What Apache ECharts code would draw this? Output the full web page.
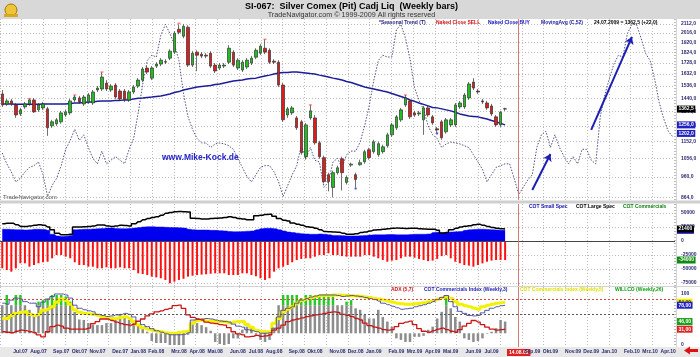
<!DOCTYPE html>
<html><head><meta charset="utf-8">
<style>html,body{margin:0;padding:0;background:#fff}#c{width:700px;height:357px}</style>
<script src="https://cdn.jsdelivr.net/npm/echarts/dist/echarts.min.js"></script>
</head><body><div id="c"></div>
<script>
const startDate = [2007, 5, 8];
const weekCount = 149;
const monthNames = ['Jan','Feb','Mrz','Apr','Mai','Jun','Jul','Aug','Sep','Okt','Nov','Dez'];
const priceTicks = [864,960,1056,1152,1248,1344,1440,1536,1632,1728,1824,1920,2016,2112];
const cotTicks = [50000,25000,0,-25000,-50000,-75000];
const indTicks = [100,0];
const markerIndex = 114;
// weekly candles [open, close, low, high]
const candles = [
[1473,1392,1378,1503],[1399,1421,1385,1436],[1421,1399,1385,1436],[1392,1322,1302,1406],[1329,1357,1315,1371],
[1378,1399,1364,1414],[1399,1428,1385,1443],[1428,1343,1336,1443],[1357,1392,1343,1406],[1371,1399,1357,1414],
[1364,1237,1187,1378],[1250,1276,1237,1289],[1263,1289,1250,1302],[1276,1336,1263,1350],[1322,1343,1309,1357],
[1336,1421,1322,1436],[1428,1450,1414,1465],[1443,1414,1399,1458],[1399,1450,1385,1465],[1414,1465,1399,1480],
[1406,1488,1392,1503],[1503,1518,1488,1534],[1511,1607,1495,1649],[1558,1511,1495,1582],[1503,1534,1488,1550],
[1542,1450,1436,1558],[1495,1436,1421,1511],[1495,1432,1414,1511],[1428,1488,1414,1503],[1488,1526,1473,1542],
[1534,1582,1518,1598],[1582,1675,1566,1692],[1683,1649,1632,1700],[1598,1683,1582,1700],[1700,1718,1683,1735],
[1718,1753,1700,1771],[1735,1740,1718,1762],[1771,1836,1753,1855],[1827,2014,1808,2035],[2056,2024,2003,2109],
[1983,2088,1962,2109],[2077,1709,1692,2098],[1709,1817,1692,1836],[1827,1799,1656,1845],[1808,1790,1771,1827],
[1799,1790,1771,1817],[1817,1700,1683,1836],[1709,1658,1641,1727],[1683,1709,1666,1727],[1700,1709,1683,1727],
[1735,1864,1718,1894],[1827,1709,1692,1845],[1683,1753,1666,1771],[1666,1735,1649,1753],[1692,1753,1675,1771],
[1727,1771,1709,1790],[1780,1845,1762,1864],[1817,1884,1799,1904],[1864,1827,1808,1952],[1845,1735,1718,1864],
[1744,1735,1718,1762],[1735,1542,1526,1753],[1542,1289,1276,1558],[1322,1364,1302,1378],[1336,1371,1322,1385],
[1302,1237,1224,1315],[1276,1088,1077,1289],[1066,1256,1050,1269],[1302,1350,1289,1392],[1302,1145,1134,1322],
[1145,1066,1055,1157],[1061,938,929,1072],[972,938,892,982],[910,982,864,992],[982,1007,972,1018],
[1055,982,896,1066],[934,958,924,968],[1021,1026,1012,1034],[972,948,910,982],[1023,1034,1018,1050],
[1039,1094,1028,1105],[1105,1061,1050,1116],[1094,1151,1083,1163],[1077,1140,1066,1151],[1094,1122,1083,1134],
[1128,1193,1116,1206],[1193,1256,1181,1269],[1237,1309,1224,1322],[1289,1357,1276,1371],[1392,1443,1378,1465],
[1421,1309,1295,1436],[1336,1322,1309,1350],[1329,1336,1315,1350],[1289,1371,1193,1385],[1371,1322,1309,1385],
[1309,1269,1256,1322],[1231,1224,1206,1243],[1276,1175,1163,1289],[1212,1289,1200,1302],[1256,1289,1243,1302],
[1256,1392,1243,1406],[1378,1406,1364,1421],[1378,1465,1364,1480],[1443,1550,1428,1566],[1566,1518,1503,1598],
[1495,1488,1473,1511],[1421,1414,1399,1436],[1406,1371,1357,1421],[1385,1329,1315,1399],[1309,1256,1243,1322],
[1256,1340.5,1243,1350],[1365,1362.5,1350,1372]
];
const ma52 = [
1399,1399,1399,1396,1396,1396,1396,1396,1396,1399,
1399,1399,1399,1399,1399,1403,1406,1406,1410,1414,
1414,1418,1421,1421,1421,1425,1425,1428,1428,1436,
1440,1443,1447,1450,1454,1458,1465,1473,1484,1491,
1503,1511,1518,1526,1530,1534,1538,1546,1550,1558,
1566,1574,1578,1582,1590,1594,1598,1607,1615,1623,
1632,1641,1645,1645,1649,1649,1645,1641,1636,1632,
1623,1615,1607,1598,1590,1582,1570,1562,1550,1538,
1526,1518,1511,1503,1495,1488,1476,1465,1454,1443,
1428,1418,1406,1396,1385,1374,1371,1364,1357,1350,
1340,1329,1322,1315,1312,1309,1302,1295,1285,1276,
1266,1256];
// seasonal trend index (0..100, own scale)
const seasonal = [
26,20,15.5,10,12,15.5,18,19,21,14,
2,8,12,19,28,33,39,33,36,29,
23,20,27,20,22,24,22,20,28,34,
48,64,77,80,79,91,97,92,86,77,
59,46,39,34,31.5,31.5,29,31,31.5,31,
30,28,23,18,13,10,14,18,19,19,
15.5,10,2,8,14,19,30,23,29,22,
21,7,10,21,23,18,25,27,27,32,
41,52,66,77,80,79,79,94,97,89.5,
78,62,55,50,41,36,34,29,31,32,
31.5,31,30,29,25,21,17,10,14,18,
19,20,20,12,3,7,11,14,29,36,
38,29,36,29,24,20,24,20,28,28,
22,20,46,58,67,75,80,79,92,97,
97,89.5,81,77,67,54,45,38,35];
const nakedSell = [[6,1436],[16,1465],[22,1649],[39,2120],[58,1952],[68,1392],[89,1465]];
const nakedBuy = [[78,905],[96,1202]];
const arrows = [[117,898,121,1081],[130,1224,139,1976]];
const largeSpec = [
31000,31500,31500,29000,26000,26000,27000,28000,29000,28000,
25000,20000,14000,11000,11000,12000,25000,25000,25500,26000,
27000,28500,28500,27000,26000,27000,28000,27500,27000,31000,
34500,38000,40000,42000,43500,46000,49500,51000,52300,52500,
52300,52000,40500,40000,39500,39500,40000,40500,41000,42000,
43400,42000,40000,39300,38000,38000,45000,46000,47500,47700,
44000,40000,37000,35700,32000,30000,28000,25500,24500,22700,
20000,17000,16600,16000,15500,14000,12000,12000,13000,15000,
16000,18000,19600,20000,21000,22000,22700,23000,22700,22500,
22700,22700,22000,21500,21000,21000,19000,14000,15000,20000,
22700,25000,26500,27300,29000,29800,28000,26000,24000,22700,
22000,21400];
const smallSpec = [
21000,21000,20500,20000,20000,19600,20000,21000,21000,20500,
19000,12000,9000,8000,8500,10000,20000,20500,21000,21000,
21500,22000,22500,23000,23000,22500,22000,22000,22500,23000,
24000,25000,25500,25500,25000,25000,24500,24000,24000,23500,
23000,21000,20000,19500,19600,19500,19000,19000,18500,18000,
17000,16600,16600,17000,17500,18000,20000,22000,22700,22700,
22000,20000,18000,16000,15000,14000,13000,12500,12000,12000,
12500,12000,11000,10000,10000,9500,9000,9000,9000,9500,
10000,10500,11000,11000,11000,11500,11500,11000,11000,11000,
11500,12000,12000,12000,12500,15000,15500,15000,15000,16000,
16500,17000,19000,20000,20500,21000,21000,20500,20000,19600,
19000,19000];
const commercials = [
-48800,-51800,-54800,-48800,-39800,-39800,-45900,-42900,-39800,-38000,
-37000,-30900,-25000,-25000,-28000,-30900,-38000,-42900,-42900,-45900,
-45900,-48800,-48800,-47000,-48800,-48800,-47000,-48800,-48800,-52000,
-57700,-59000,-60700,-63700,-65000,-66600,-69600,-75500,-72600,-69600,
-67500,-63700,-62000,-60700,-60000,-59500,-58500,-57700,-57700,-57700,
-60700,-60700,-60700,-57700,-57700,-60700,-63000,-66600,-69600,-66600,
-54800,-48800,-45900,-42900,-38000,-34000,-32000,-30900,-30900,-28000,
-25000,-25000,-22000,-25000,-25000,-27000,-28000,-28000,-28000,-28000,
-25000,-25000,-28000,-30900,-34000,-37000,-35000,-34000,-30900,-28000,
-28000,-29800,-32100,-34000,-36000,-35000,-32000,-27000,-25000,-30900,
-37000,-39800,-42900,-44000,-45900,-43000,-40000,-37000,-35000,-34000,
-34000,-34000];
const adx = [
26,25,24,27,29,28,26,24,20,16,
26,36,39,37,33,31,31,31,31,33,
42,46,51,51,48,45,42,40,39,41,
47,51,57,61,65,67,70,72,77,78,
72,59,54,51,49,45,43,42,40,39,
34,26,22,20,16,17,19,17,18,20,
29,33,39,46,49,51,53,55.5,57,59,
60,62,64,65,64,60,58,55.5,52,49,
43,38,35,33,30,29,30,36,42.5,45,
47,40,32,27,25,28,31,33,30,27,
25,30,37,42.5,48,45,40,35,31,29,
30,31];
const cotIdx3 = [
82,80,88,92,90,85,82,82,75,84,
90,95,100,100,98,92,78,72,69,67,
65,60,58,56,57,59,60,62,60,55,
46,40,36,32,28,25,22,20,20,20,
21,24,49,50,51,52,51,49,47,46,
45,41,37,35,30,28,26,23,23,24,
33,55,68,72,75,82,88,91,94,96,
98,98,98,98,97,95,96,97,96,95,
93,91,89,86,82,79,76,73,70,71,
72,75,77,79,82,85,89,93,97,85,
75,66,62,58,57,58,63,68,72,75,
77,78];
const cotIdx5 = [
52,52,58,62,64,65,60,58,60,68,
70,75,84,90,87,80,69,64,62,61,
60,58,55,53,52,52,54,55.5,52,46,
39,34,31,29,27,26,24,23,23,25,
26,27,42.5,48,49,47,47,46,46,46,
43,45,46,46,40,35,29,26,26,26,
42.5,52,65,70,75,82,87,90,93,95,
97,97,97,98,98,97.5,97,96.5,96,95,
94,93,91,90,88,86,84,82,81,80,
80,81,82,83,85,87,90,93,95,91,
85,80,77,75,72,70,75,78,80,82,
83,84];
const willco = [
78,98,78,98,98,78,69,59,85,88,
91,98,98,98,95,85,65,50,49,43,
40,39,39,43,43,53,59,53,49,43,
38,35,26,8,4,4,4,0,0,0,
0,20,46,43,39,35,28,6,2,0,
2,13,13,30,36,36,20,10,6,10,
33,78,98,98,98,98,92,98,98,97,
97,97,97,95,78,78,85,88,72,69,
59,52,52,69,55,46,36,13,10,6,
6,16,16,18,30,36,52,65,98,72,
55,46,13,10,6,8,13,22,26,33,
49,46];
const willcoBase = 23, willcoHigh = 78;
const obLevel = 90, midLevel = 61;

// ---- derived structures ----
const cats = [];
const t0 = Date.UTC(startDate[0], startDate[1], startDate[2]);
for (let i = 0; i < weekCount; i++) cats.push(new Date(t0 + i * 7 * 86400000).toISOString().slice(0, 10));
const comma = (v, d) => v.toFixed(d).replace('.', ',');
const ddmm = (s, full) => s.slice(8, 10) + '.' + s.slice(5, 7) + '.' + (full ? s.slice(0, 4) : s.slice(2, 4));
const last = candles.length - 1;
const lastClose = candles[last][1], chg = lastClose - candles[last - 1][1];
const wBaseSer = willco.map(v => Math.min(v, willcoBase));
const wGraySer = willco.map(v => v >= willcoBase ? Math.min(v, willcoHigh) - willcoBase : willcoBase - v);
const wGreenSer = willco.map(v => v > willcoHigh ? v - willcoHigh : 0);

const FONT = '"Liberation Sans", Arial, sans-serif';
const boxItem = (val, bg, fg, dec) => ({
  yAxis: val,
  lineStyle: { color: 'rgba(0,0,0,0)', width: 0.01 },
  label: { show: true, position: 'end', distance: 2, formatter: () => comma(val, dec),
    backgroundColor: bg, color: fg, fontSize: 5, fontWeight: 'bold', padding: [1, 1.5], fontFamily: FONT }
});
const redV = { xAxis: cats[markerIndex], lineStyle: { color: '#d87878', width: 1, type: 'solid' }, label: { show: false } };
const dotted = { color: '#bcbcbc', type: [1, 2], width: 1 };
const axLabel = (ticks, fmt) => ({ customValues: ticks, formatter: fmt, fontSize: 5, fontWeight: 'bold', color: '#2b2b70', margin: 6, fontFamily: FONT });

const catAxis = (g, labels) => ({
  type: 'category', gridIndex: g, data: cats, boundaryGap: true,
  axisLine: { show: false }, axisTick: { show: false }, splitLine: { show: false },
  axisLabel: labels ? {
    show: true, fontSize: 5, fontWeight: 'bold', color: '#2a2a6e', margin: 2, fontFamily: FONT,
    interval: (i, v) => i === markerIndex || (i !== markerIndex - 1 && +v.slice(8, 10) <= 7),
    formatter: (v, i) => i === markerIndex ? '{r|' + ddmm(v, false) + '}' : monthNames[+v.slice(5, 7) - 1] + '.' + v.slice(2, 4),
    rich: { r: { backgroundColor: '#e02020', color: '#fff', fontSize: 5, fontWeight: 'bold', padding: [1, 2] } }
  } : { show: false }
});
const gridAxis = g => ({
  type: 'value', gridIndex: g, min: 0, max: weekCount, interval: 4.8,
  axisLine: { show: false }, axisTick: { show: false }, axisLabel: { show: false },
  splitLine: { show: true, lineStyle: dotted }
});

const txt = (x, y, text, fill, font, align) => ({
  type: 'text', x, y, z: 100, silent: true,
  style: { text, fill, font, align: align || 'left', verticalAlign: 'middle' }
});
const small = 'bold 5px ' + FONT;

const option = {
  animation: false,
  textStyle: { fontFamily: FONT },
  grid: [
    { left: 0, right: 25, top: 19, height: 181 },
    { left: 0, right: 25, top: 204, height: 82 },
    { left: 0, right: 25, top: 287, height: 60 }
  ],
  xAxis: [catAxis(0, false), catAxis(1, false), catAxis(2, true), gridAxis(0), gridAxis(1), gridAxis(2)],
  yAxis: [
    { type: 'log', gridIndex: 0, position: 'right', min: 853, max: 2167, logBase: 10,
      axisLine: { show: false }, axisTick: { show: false, customValues: priceTicks },
      axisLabel: axLabel(priceTicks, v => comma(Math.round(v * 10) / 10, 1)),
      splitLine: { show: true, lineStyle: dotted } },
    { type: 'value', gridIndex: 0, min: 0, max: 100, show: false },
    { type: 'value', gridIndex: 1, position: 'right', min: -80400, max: 66100,
      axisLine: { show: false }, axisTick: { show: false, customValues: cotTicks },
      axisLabel: axLabel(cotTicks, v => String(Math.round(v))),
      splitLine: { show: true, lineStyle: dotted } },
    { type: 'value', gridIndex: 2, position: 'right', min: -3.9, max: 113.7,
      axisLine: { show: false }, axisTick: { show: false, customValues: indTicks },
      axisLabel: axLabel(indTicks, v => String(Math.round(v))),
      splitLine: { show: false } }
  ],
  series: [
    { name: 'Seasonal Trend', type: 'line', xAxisIndex: 0, yAxisIndex: 1, data: seasonal, showSymbol: false,
      lineStyle: { color: '#4e5086', width: 1, type: [1.5, 1.5] }, z: 1 },
    { name: 'MovingAvg (C,52)', type: 'line', xAxisIndex: 0, yAxisIndex: 0, data: ma52, showSymbol: false,
      lineStyle: { color: '#1c1c9c', width: 1.5 }, z: 3,
      markLine: { silent: true, symbol: ['none', 'arrow'], symbolSize: 7,
        lineStyle: { color: '#1e1eb4', width: 2, type: 'solid' }, label: { show: false },
        data: arrows.map(a => [{ coord: [a[0], a[1]] }, { coord: [a[2], a[3]] }]) } },
    { name: 'Silver', type: 'candlestick', xAxisIndex: 0, yAxisIndex: 0, data: candles, barWidth: 3, z: 4,
      itemStyle: { color: '#1fbf1f', color0: '#e01b1b', borderColor: '#333', borderColor0: '#333', borderWidth: 0.7 },
      markLine: { silent: true, symbol: 'none', z: 10, data: [
        redV,
        boxItem(lastClose, '#000', '#fff', 1),
        boxItem(ma52[ma52.length - 1], '#2020c0', '#fff', 1),
        boxItem(nakedBuy[nakedBuy.length - 1][1], '#2020c0', '#fff', 1)
      ] } },
    { name: 'Naked Close SELL', type: 'scatter', xAxisIndex: 0, yAxisIndex: 0, data: nakedSell,
      symbol: 'rect', symbolSize: [3, 1.3], itemStyle: { color: '#ff5050' }, z: 5 },
    { name: 'Naked Close BUY', type: 'scatter', xAxisIndex: 0, yAxisIndex: 0, data: nakedBuy,
      symbol: 'rect', symbolSize: [2, 2], itemStyle: { color: '#2020d0' }, z: 5 },

    { name: 'COT Commercials', type: 'bar', xAxisIndex: 1, yAxisIndex: 2, data: commercials, barWidth: 2,
      itemStyle: { color: '#ff1010' },
      markLine: { silent: true, symbol: 'none', data: [
        { yAxis: 0, lineStyle: { color: '#444', width: 1, type: 'solid' }, label: { show: false } },
        redV,
        boxItem(commercials[commercials.length - 1], '#108a10', '#fff', 0)
      ] } },
    { name: 'COT Small Spec', type: 'line', xAxisIndex: 1, yAxisIndex: 2, data: smallSpec, step: 'middle',
      showSymbol: false, lineStyle: { color: '#0000ee', width: 0.5 }, areaStyle: { color: '#0000ee', opacity: 1 },
      markLine: { silent: true, symbol: 'none', data: [boxItem(smallSpec[smallSpec.length - 1], '#2020c0', '#fff', 0)] } },
    { name: 'COT Large Spec', type: 'line', xAxisIndex: 1, yAxisIndex: 2, data: largeSpec, step: 'middle',
      showSymbol: false, lineStyle: { color: '#000', width: 1.5 },
      markLine: { silent: true, symbol: 'none', data: [boxItem(largeSpec[largeSpec.length - 1], '#000', '#fff', 0)] } },

    { name: 'wbase', type: 'bar', xAxisIndex: 2, yAxisIndex: 3, stack: 'w', data: wBaseSer, barWidth: 2.5,
      itemStyle: { color: 'rgba(0,0,0,0)' }, silent: true },
    { name: 'WILLCO', type: 'bar', xAxisIndex: 2, yAxisIndex: 3, stack: 'w', data: wGraySer, barWidth: 2.5,
      itemStyle: { color: '#8c8c8c' } },
    { name: 'WILLCO high', type: 'bar', xAxisIndex: 2, yAxisIndex: 3, stack: 'w', data: wGreenSer, barWidth: 2.5,
      itemStyle: { color: '#22cc22' },
      markLine: { silent: true, symbol: 'none', data: [
        { yAxis: obLevel, lineStyle: { color: '#d04848', width: 1, type: [2, 2] }, label: { show: false } },
        { yAxis: midLevel, lineStyle: { color: '#555', width: 1, type: [2, 2] }, label: { show: false } },
        redV,
        boxItem(willco[willco.length - 1], '#18a018', '#fff', 2)
      ] } },
    { name: 'COT Commercials Index (Weekly,5)', type: 'line', xAxisIndex: 2, yAxisIndex: 3, data: cotIdx5, step: 'middle',
      showSymbol: false, lineStyle: { color: '#f2f200', width: 3 },
      markLine: { silent: true, symbol: 'none', data: [boxItem(cotIdx5[cotIdx5.length - 1], '#f2f200', '#333', 2)] } },
    { name: 'COT Commercials Index (Weekly,3)', type: 'line', xAxisIndex: 2, yAxisIndex: 3, data: cotIdx3, step: 'middle',
      showSymbol: false, lineStyle: { color: '#5050a8', width: 1 },
      markLine: { silent: true, symbol: 'none', data: [boxItem(cotIdx3[cotIdx3.length - 1], '#2020c0', '#fff', 2)] } },
    { name: 'ADX (5,7)', type: 'line', xAxisIndex: 2, yAxisIndex: 3, data: adx, step: 'middle',
      showSymbol: false, lineStyle: { color: '#cc1414', width: 1.3 },
      markLine: { silent: true, symbol: 'none', data: [boxItem(adx[adx.length - 1], '#dd2020', '#fff', 2)] } }
  ],
  graphic: [
    { type: 'rect', z: -10, silent: true, shape: { x: 0, y: 0, width: 700, height: 19 }, style: { fill: '#d8d8d8' } },
    { type: 'rect', z: -10, silent: true, shape: { x: 0, y: 347, width: 700, height: 10 }, style: { fill: '#e8e8e8' } },
    { type: 'rect', z: -10, silent: true, shape: { x: 0, y: 200.5, width: 700, height: 3 }, style: { fill: '#cfcfcf' } },
    { type: 'rect', z: -10, silent: true, shape: { x: 0, y: 286, width: 700, height: 1 }, style: { fill: '#d4d4d4' } },
    { type: 'rect', z: -10, silent: true, shape: { x: 676, y: 19, width: 1, height: 328 }, style: { fill: '#d4d4d4' } },
    { type: 'circle', z: 100, silent: true, shape: { cx: 11, cy: 10, r: 6 }, style: { fill: '#f0c438', stroke: '#a07810', lineWidth: 1 } },
    { type: 'rect', z: 101, silent: true, shape: { x: 4, y: 14, width: 14, height: 3 }, style: { fill: '#d8a820' } },
    { type: 'polygon', z: 100, silent: true,
      shape: { points: [[684, 350.5], [690, 346.5], [690, 349], [698, 349], [698, 352], [690, 352], [690, 354.5]] },
      style: { fill: '#e01010' } },
    txt(351.5, 6.5, 'SI-067:  Silver Comex (Pit) Cadj Liq  (Weekly bars)', '#000', 'bold 9px ' + FONT, 'center'),
    txt(351.5, 15.5, 'TradeNavigator.com \u00a9 1999-2009 All rights reserved', '#333', '7.2px ' + FONT, 'center'),
    txt(379, 22.5, '*Seasonal Trend (T)', '#202080', small),
    txt(436, 22.5, 'Naked Close SELL', '#d01010', small),
    txt(488, 22.5, 'Naked Close BUY', '#1010c0', small),
    txt(541, 22.5, 'MovingAvg (C,52)', '#1a1aa0', small),
    txt(594, 22.5, ddmm(cats[last], true) + ' = ' + comma(lastClose, 1) + ' (' + (chg >= 0 ? '+' : '') + comma(chg, 1) + ')', '#000', small),
    txt(162, 158, 'www.Mike-Kock.de', '#2424c8', 'bold 8.5px ' + FONT),
    txt(3, 197.5, 'TradeNavigator.com', '#555', '6px ' + FONT),
    txt(529, 207, 'COT Small Spec', '#1010b0', small),
    txt(576, 207, 'COT Large Spec', '#000', small),
    txt(623, 207, 'COT Commercials', '#108010', small),
    txt(391, 289.5, 'ADX (5,7)', '#d01010', small),
    txt(424, 289.5, 'COT Commercials Index (Weekly,3)', '#1a1ab0', small),
    txt(520, 289.5, 'COT Commercials Index (Weekly,5)', '#e0e000', small),
    txt(615, 289.5, 'WILLCO (Weekly,26)', '#10a010', small)
  ]
};
const chart = echarts.init(document.getElementById('c'), null, { renderer: 'canvas' });
chart.setOption(option);
</script>
</body></html>
